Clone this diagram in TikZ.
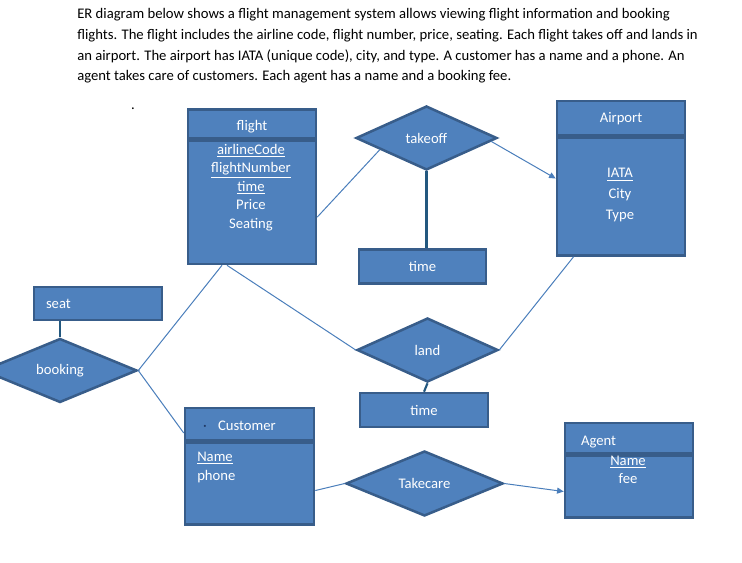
\documentclass[tikz,border=0pt]{standalone}
\usepackage{fontspec}
\setmainfont{Carlito}
\usetikzlibrary{arrows.meta,calc,positioning,shapes.geometric}
\definecolor{erfill}{HTML}{4F81BD}
\definecolor{erborder}{HTML}{385D8A}
\definecolor{linkblue}{HTML}{4A7EBB}
\definecolor{linkdark}{HTML}{23587F}
\definecolor{dotdark}{HTML}{1F3864}

\begin{document}
\begin{tikzpicture}[
  x=0.75pt, y=-0.75pt,
  font=\fontsize{11}{13.9}\selectfont,
  box/.style={draw=erborder, fill=erfill, line width=1.9pt, text=white,
    inner sep=0pt},
  header/.style={box, minimum width=96pt, minimum height=24pt},
  title/.style={header, text height=10.4pt, text depth=0pt},
  entity/.style={box, minimum width=96pt},
  relation/.style={box, diamond, minimum width=105.75pt, minimum height=48pt},
  attrs/.style={text=white, align=center, inner sep=0pt},
  link/.style={draw=linkblue, line width=0.75pt},
  heavylink/.style={draw=linkdark, line width=1.6pt},
  pointer/.style={link, -{Triangle[length=5pt, width=4.5pt]}},
]
  \useasboundingbox (0,0) rectangle (742,563);
  \clip (0,0) rectangle (742,563);

  \node[anchor=north west, align=left, inner sep=0pt,
    font=\fontsize{11}{15.5}\selectfont] (intro-text) at (77,8.5)
    {ER diagram below shows a flight management system allows viewing flight information and booking\\
    flights. The flight includes the airline code, flight number, price, seating. Each flight takes off and lands in\\
    an airport. The airport has IATA (unique code), city, and type. A customer has a name and a phone. An\\
    agent takes care of customers. Each agent has a name and a booking fee.};
  \node[inner sep=0pt] (stray-dot) at (133,109) {.};

  \node[title, minimum height=21.75pt] (flight-title) at (252,124) {flight};
  \node[entity, minimum height=92.25pt, below=0pt of flight-title] (flight-body) {};
  \node[attrs] (flight-attrs) at (251,187.5)
    {\underline{airlineCode}\\\underline{flightNumber}\\\underline{time}\\Price\\Seating};

  \node[relation] (takeoff) at (426.5,138) {takeoff};
  \node[header, minimum height=25.5pt, minimum width=95.25pt] (time-takeoff)
    at (422.5,266.5) {time};

  \node[title, minimum height=25.5pt, text height=6.5pt] (airport-title)
    at (621,118) {Airport};
  \node[entity, minimum height=88.5pt, below=0pt of airport-title] (airport-body) {};
  \node[attrs, font=\fontsize{11}{15.4}\selectfont] (airport-attrs) at (620,195)
    {\underline{IATA}\\City\\Type};

  \node[header, minimum height=24.75pt, text width=78pt, inner xsep=9pt,
    align=left] (seat) at (98,303.5) {seat};
  \node[relation, minimum width=115.5pt] (booking) at (60,370.5) {booking};

  \node[relation] (land) at (427.5,350) {land};
  \node[header, minimum height=25.5pt] (time-land) at (424,410) {time};

  \node[title, minimum width=96.75pt, text width=69.75pt, inner xsep=13.5pt,
    align=left, text height=10.1pt] (customer-title) at (249.5,424)
    {{\color{dotdark}\textperiodcentered}\hspace{8.5pt}Customer};
  \node[entity, minimum width=96.75pt, minimum height=61.5pt,
    below=0pt of customer-title] (customer-body) {};
  \node[attrs, align=left, anchor=north west,
    font=\fontsize{11}{14.25}\selectfont] (customer-attrs) at (197,451.5)
    {\underline{Name}\\phone};

  \node[relation, minimum width=117.75pt, minimum height=48.75pt] (takecare)
    at (424.5,483.5) {Takecare};

  \node[title, minimum height=22.5pt, text width=72pt, inner xsep=12pt,
    align=left, text height=10.8pt] (agent-title) at (629,438) {Agent};
  \node[entity, minimum height=46.5pt, below=0pt of agent-title] (agent-body) {};
  \node[attrs, font=\fontsize{11}{13.5}\selectfont] (agent-attrs) at (628,470)
    {\underline{Name}\\fee};

  \draw[link] ([yshift=-10.9pt]flight-body.east)
    -- ($(takeoff.west)!0.35!(takeoff.south)$);
  \draw[pointer] ($(takeoff.east)!0.1!(takeoff.south)$)
    -- ([yshift=13.5pt]airport-body.west);
  \draw[heavylink] (takeoff.south) -- (takeoff.south |- time-takeoff.north);
  \draw[link] ([xshift=-18.75pt]flight-body.south) -- (land.west);
  \draw[link] ([xshift=-22.5pt]flight-body.south) -- (booking.east);
  \draw[link] (booking.east) -- ([yshift=-6.75pt]customer-title.west);
  \draw[heavylink] (booking.north |- seat.south) -- (booking.north);
  \draw[heavylink] (land.south) -- (time-land.north);
  \draw[link] (land.east) -- ([xshift=-35.6pt]airport-body.south);
  \draw[link] ([yshift=-5.25pt]customer-body.east) -- (takecare.west);
  \draw[pointer] (takecare.east) -- ([yshift=-3.75pt]agent-body.west);
\end{tikzpicture}
\end{document}
